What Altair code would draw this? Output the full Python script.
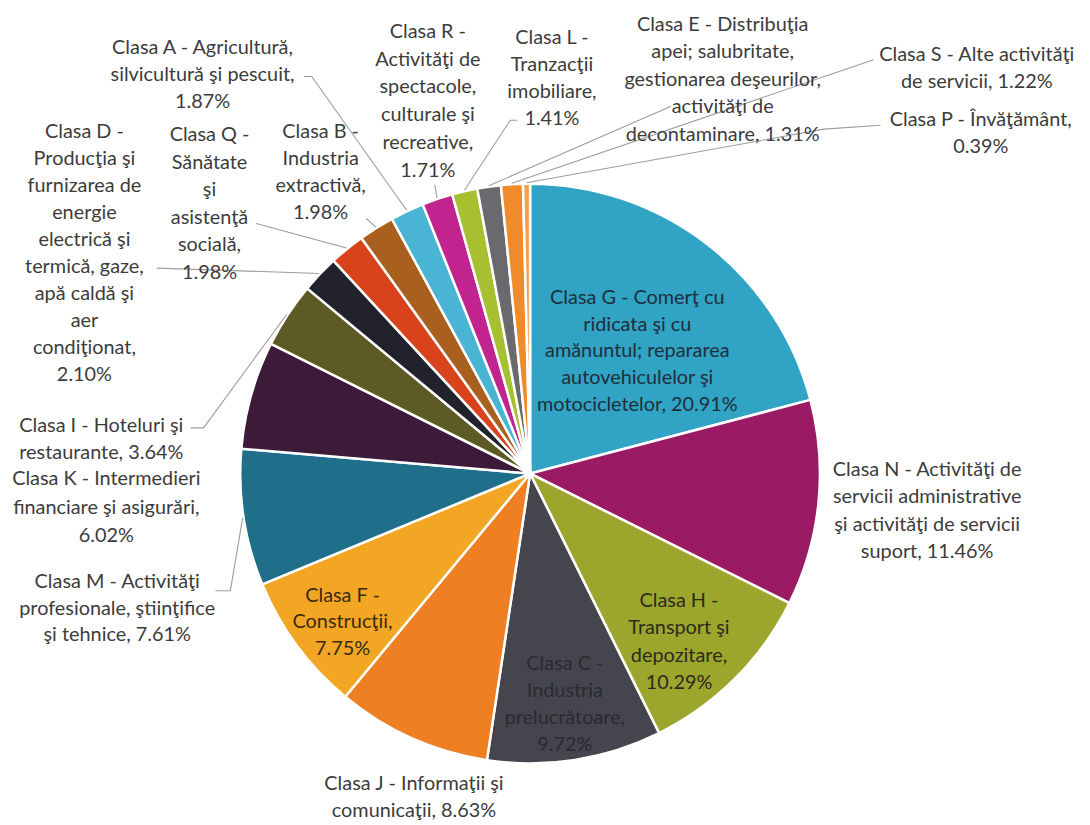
import altair as alt
import pandas as pd
import numpy as np

# ---------------- data ----------------
codes = ["G", "N", "H", "C", "J", "F", "M", "K", "I", "D", "Q", "B", "A", "R", "L", "E", "S", "P"]
values = [20.91, 11.46, 10.29, 9.72, 8.63, 7.75, 7.61, 6.02, 3.64, 2.10, 1.98, 1.98, 1.87, 1.71, 1.41, 1.31, 1.22, 0.39]
label_lines = {
    "G": ["Clasa G - Comerţ cu", "ridicata şi cu", "amănuntul; repararea", "autovehiculelor şi", "motocicletelor, 20.91%"],
    "N": ["Clasa N - Activităţi de", "servicii administrative", "şi activităţi de servicii", "suport, 11.46%"],
    "H": ["Clasa H -", "Transport şi", "depozitare,", "10.29%"],
    "C": ["Clasa C -", "Industria", "prelucrătoare,", "9.72%"],
    "J": ["Clasa J - Informaţii şi", "comunicaţii, 8.63%"],
    "F": ["Clasa F -", "Construcţii,", "7.75%"],
    "M": ["Clasa M - Activităţi", "profesionale, ştiinţifice", "şi tehnice, 7.61%"],
    "K": ["Clasa K - Intermedieri", "financiare şi asigurări,", "6.02%"],
    "I": ["Clasa I - Hoteluri şi", "restaurante, 3.64%"],
    "D": ["Clasa D -", "Producţia şi", "furnizarea de", "energie", "electrică şi", "termică, gaze,",
          "apă caldă şi", "aer", "condiţionat,", "2.10%"],
    "Q": ["Clasa Q -", "Sănătate", "şi", "asistenţă", "socială,", "1.98%"],
    "B": ["Clasa B -", "Industria", "extractivă,", "1.98%"],
    "A": ["Clasa A - Agricultură,", "silvicultură şi pescuit,", "1.87%"],
    "R": ["Clasa R -", "Activităţi de", "spectacole,", "culturale şi", "recreative,", "1.71%"],
    "L": ["Clasa L -", "Tranzacţii", "imobiliare,", "1.41%"],
    "E": ["Clasa E - Distribuţia", "apei; salubritate,", "gestionarea deşeurilor,", "activităţi de", "decontaminare, 1.31%"],
    "S": ["Clasa S - Alte activităţi", "de servicii, 1.22%"],
    "P": ["Clasa P - Învăţământ,", "0.39%"],
}

# ---------------- styles / layout ----------------
colors = ["#31A3C4", "#9A1A63", "#9CA62C", "#45454E", "#EE7F22", "#F3A624", "#1F6F8B", "#3D1A38",
          "#5E5A25", "#22222C", "#D8431C", "#A9601E", "#4AB4D4", "#C2248F", "#A7C032", "#6A6A6E",
          "#F08B2C", "#F3A04A"]
CX, CY, R = 534, 474, 292           # pie centre / radius in page pixels
MARGIN = 8
W, H = 1082, 817
FONT = "Lato"
FS = 20
# label block: centre x, first line y, line spacing
label_pos = {
    "G": (642, 297, 27), "N": (934, 470, 27.7), "H": (684, 602, 27.7), "C": (569, 666, 27),
    "J": (417, 787, 26.5), "F": (345, 597, 27), "M": (118, 583, 27), "K": (107, 480, 28.5),
    "I": (102, 426, 27), "D": (85, 130, 27.2), "Q": (211, 133, 27.8), "B": (323, 130, 27.3),
    "A": (204, 45, 27.5), "R": (431, 29, 28), "L": (556, 35, 27.3), "E": (728, 22, 27.7),
    "S": (984, 52, 28), "P": (988, 118, 27),
}
text_colors = {"C": "#2A2A31", "G": "#1E2F3C", "H": "#2B2B20", "F": "#3A2A10"}
# label-side points of the leader lines
leader_start = {
    "A": [(306, 74), (314, 74)],
    "B": [(369, 217)],
    "Q": [(258, 222)],
    "D": [(158, 267)],
    "R": [(438, 183)],
    "L": [(521, 118), (514, 118)],
    "E": [(676, 104)],
    "S": [(880, 57)],
    "P": [(887, 123), (830, 127)],
    "I": [(192, 428), (205, 428)],
    "M": [(217, 592), (232, 592)],
}

# ---------------- tables ----------------
pie_df = pd.DataFrame({"code": codes, "value": values, "idx": range(len(codes))})

cum = np.cumsum(values)
total = cum[-1]
mid_frac = {c: (cum[i] - values[i] / 2) / total for i, c in enumerate(codes)}

text_rows = []
for c in codes:
    x0, y0, sp = label_pos[c]
    for i, line in enumerate(label_lines[c]):
        text_rows.append({"code": c, "px": x0, "py": y0 + i * sp, "txt": line,
                          "tc": text_colors.get(c, "#3C3C3C")})
text_df = pd.DataFrame(text_rows)

line_rows = []
for c, pts in leader_start.items():
    ang = mid_frac[c] * 2 * np.pi
    ex = CX + (R + 1) * np.sin(ang)
    ey = CY - (R + 1) * np.cos(ang)
    allpts = list(pts) + [(ex, ey)]
    for k, (x, y) in enumerate(allpts):
        line_rows.append({"code": c, "k": k, "px": x, "py": y})
line_df = pd.DataFrame(line_rows)

xs = alt.Scale(domain=[MARGIN, MARGIN + W])
ys = alt.Scale(domain=[MARGIN, MARGIN + H], reverse=True)

pie = alt.Chart(pie_df).mark_arc(radius=R, stroke="white", strokeWidth=2.5).encode(
    theta=alt.Theta("value:Q", stack=True),
    order=alt.Order("idx:Q", sort="ascending"),
    color=alt.Color("code:N", scale=alt.Scale(domain=codes, range=colors), legend=None),
    x=alt.value(CX - MARGIN),
    y=alt.value(CY - MARGIN),
)

leaders = alt.Chart(line_df).mark_line(color="#9C9C9C", strokeWidth=1.1).encode(
    x=alt.X("px:Q", scale=xs, axis=None),
    y=alt.Y("py:Q", scale=ys, axis=None),
    detail="code:N",
    order="k:Q",
)

texts = alt.Chart(text_df).mark_text(font=FONT, fontSize=FS, align="center", baseline="middle").encode(
    x=alt.X("px:Q", scale=xs, axis=None),
    y=alt.Y("py:Q", scale=ys, axis=None),
    text="txt:N",
    color=alt.Color("tc:N", scale=None),
)

chart = alt.layer(pie, leaders, texts).properties(
    width=W, height=H, padding=0,
    autosize=alt.AutoSizeParams(type="none"),
    background="white",
).configure_view(stroke=None)

chart.save("out.html", embed_options={"renderer": "svg", "actions": False})
